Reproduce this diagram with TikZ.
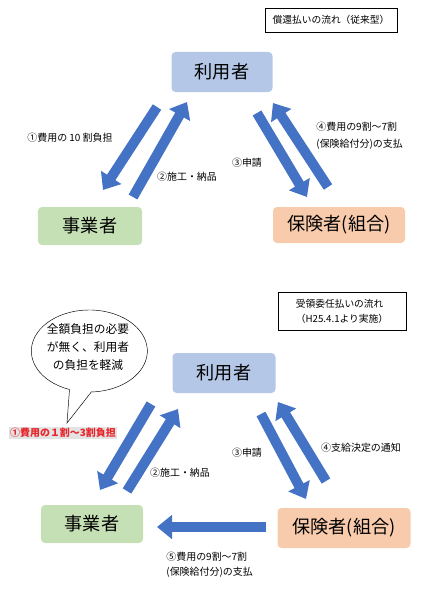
\documentclass[tikz,border=0pt]{standalone}
\usepackage{fontspec}
\setmainfont{Noto Sans CJK JP}
\usetikzlibrary{arrows.meta}
\definecolor{userblue}{HTML}{B4C7E7}
\definecolor{firmgreen}{HTML}{C5E0B4}
\definecolor{insorange}{HTML}{F8CBAD}
\definecolor{arrowblue}{HTML}{4472C4}
\definecolor{notered}{HTML}{E8242A}

\begin{document}
\begin{tikzpicture}[x=0.03cm, y=-0.03cm,
    party/.style={rounded corners=0.12cm, inner sep=0pt, font=\fontsize{15.5}{18}\selectfont},
    flow/.style={line width=0.3cm, arrowblue, -{Triangle[length=0.45cm, width=0.7cm]}},
    lbl/.style={inner sep=1pt, font=\fontsize{8.5}{14.5}\selectfont},
    titlebox/.style={draw, thin, align=left, inner sep=3pt, font=\fontsize{8.3}{12.8}\selectfont}]
    \useasboundingbox (0,0) rectangle (434,591);

    % --- upper diagram: reimbursement
    \node[titlebox, minimum width=3.96cm, minimum height=0.72cm] (title1) at (331,20) {償還払いの流れ（従来型）};
    \node[party, fill=userblue, minimum width=3.03cm, minimum height=1.2cm] (user1) at (222,72) {利用者};
    \node[party, fill=firmgreen, minimum width=3.12cm, minimum height=1.14cm] (firm1) at (90,226) {事業者};
    \node[party, fill=insorange, minimum width=3.96cm, minimum height=1.08cm] (ins1) at (339,225) {保険者(組合)};

    \coordinate (a1s) at (157,107); \coordinate (a1e) at (103,190);
    \coordinate (a2s) at (133,197); \coordinate (a2e) at (187,102);
    \coordinate (a3s) at (257,113); \coordinate (a3e) at (307,197);
    \coordinate (a4s) at (328,187); \coordinate (a4e) at (273,103);
    \draw[flow] (a1s) -- (a1e); % payment 10 割
    \draw[flow] (a2s) -- (a2e); % work
    \draw[flow] (a3s) -- (a3e); % application
    \draw[flow] (a4s) -- (a4e); % refund

    \node[lbl] (pay1) at (70,138) {①費用の 10 割負担};
    \node[lbl] (work1) at (187,177) {②施工・納品};
    \node[lbl] (apply1) at (247,163) {③申請};
    \node[lbl, anchor=west, align=left] (refund1) at (315,136) {④費用の9割～7割\\(保険給付分)の支払};

    % --- lower diagram: delegated receipt
    \node[titlebox, minimum width=3.84cm, minimum height=1.14cm] (title2) at (342,311) {受領委任払いの流れ\\（H25.4.1より実施）};
    \node[party, fill=userblue, minimum width=3.09cm, minimum height=1.2cm] (user2) at (224,373) {利用者};
    \node[party, fill=firmgreen, minimum width=3.06cm, minimum height=1.14cm] (firm2) at (92,524) {事業者};
    \node[party, fill=insorange, minimum width=3.99cm, minimum height=1.2cm] (ins2) at (344,528) {保険者(組合)};

    % speech bubble
    \draw[thin, fill=white] (67,423) -- (69.5,389.5) arc[start angle=110, end angle=448, x radius=58, y radius=41] -- cycle;
    \node[align=center, font=\fontsize{10}{15}\selectfont] (note) at (88,347) {全額負担の必要\\が無く、利用者\\の負担を軽減};
    \node[fill=gray!22, text=notered, inner sep=1pt, font=\fontsize{8.5}{10}\selectfont\bfseries] (pay2) at (63,433) {①費用の１割～3割負担};

    \coordinate (b1s) at (151,404); \coordinate (b1e) at (100,490);
    \coordinate (b2s) at (127,491); \coordinate (b2e) at (178,409);
    \coordinate (b3s) at (261,414); \coordinate (b3e) at (306,499);
    \coordinate (b4s) at (326,481); \coordinate (b4e) at (278,402);
    \coordinate (b5s) at (266,527); \coordinate (b5e) at (157,527);
    \draw[flow] (b1s) -- (b1e); % payment 1-3 割
    \draw[flow] (b2s) -- (b2e); % work
    \draw[flow] (b3s) -- (b3e); % application
    \draw[flow] (b4s) -- (b4e); % notice
    \draw[flow] (b5s) -- (b5e); % payment to firm

    \node[lbl] (work2) at (180,473) {②施工・納品};
    \node[lbl] (apply2) at (247,453) {③申請};
    \node[lbl] (notice2) at (361,448) {④支給決定の通知};
    \node[lbl, anchor=west, align=left, font=\fontsize{8.5}{12.8}\selectfont] (refund2) at (165,564.5) {⑤費用の9割～7割\\(保険給付分)の支払};
\end{tikzpicture}
\end{document}
